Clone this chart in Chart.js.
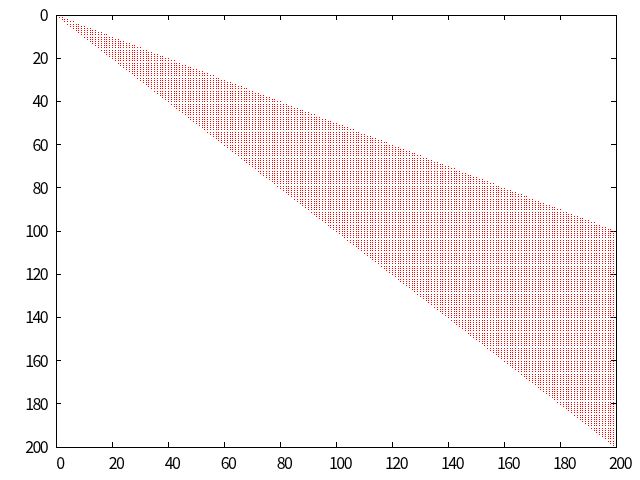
<!DOCTYPE html>
<html>
<head>
<meta charset="utf-8">
<style>
  html, body { margin: 0; padding: 0; background: #fff; }
  canvas { display: block; }
</style>
<script src="https://cdn.jsdelivr.net/npm/chart.js@4/dist/chart.umd.js"></script>
</head>
<body>
<canvas id="spy" width="640" height="480"></canvas>
<script>
// each column of the matrix holds one unbroken run of cells, topRow..bottomRow
const columns = [
  1,2,3,4,5,6,7,8,9,10,11,12,13,14,15,16,17,18,19,20,21,22,23,24,25,26,27,28,29,30,31,32,33,34,35,36,37,38,39,40,
  41,42,43,44,45,46,47,48,49,50,51,52,53,54,55,56,57,58,59,60,61,62,63,64,65,66,67,68,69,70,71,72,73,74,75,76,77,78,79,80,
  81,82,83,84,85,86,87,88,89,90,91,92,93,94,95,96,97,98,99,100,101,102,103,104,105,106,107,108,109,110,111,112,113,114,115,116,117,118,119,120,
  121,122,123,124,125,126,127,128,129,130,131,132,133,134,135,136,137,138,139,140,141,142,143,144,145,146,147,148,149,150,151,152,153,154,155,156,157,158,159,160,
  161,162,163,164,165,166,167,168,169,170,171,172,173,174,175,176,177,178,179,180,181,182,183,184,185,186,187,188,189,190,191,192,193,194,195,196,197,198,199
];
const topRow = [
  1,1,2,2,3,3,4,4,5,5,6,6,7,7,8,8,9,9,10,10,11,11,12,12,13,13,14,14,15,15,16,16,17,17,18,18,19,19,20,20,
  21,21,22,22,23,23,24,24,25,25,26,26,27,27,28,28,29,29,30,30,31,31,32,32,33,33,34,34,35,35,36,36,37,37,38,38,39,39,40,40,
  41,41,42,42,43,43,44,44,45,45,46,46,47,47,48,48,49,49,50,50,51,51,52,52,53,53,54,54,55,55,56,56,57,57,58,58,59,59,60,60,
  61,61,62,62,63,63,64,64,65,65,66,66,67,67,68,68,69,69,70,70,71,71,72,72,73,73,74,74,75,75,76,76,77,77,78,78,79,79,80,80,
  81,81,82,82,83,83,84,84,85,85,86,86,87,87,88,88,89,89,90,90,91,91,92,92,93,93,94,94,95,95,96,96,97,97,98,98,99,99,100
];
const bottomRow = [
  1,2,3,4,5,6,7,8,9,10,11,12,13,14,15,16,17,18,19,20,21,22,23,24,25,26,27,28,29,30,31,32,33,34,35,36,37,38,39,40,
  41,42,43,44,45,46,47,48,49,50,51,52,53,54,55,56,57,58,59,60,61,62,63,64,65,66,67,68,69,70,71,72,73,74,75,76,77,78,79,80,
  81,82,83,84,85,86,87,88,89,90,91,92,93,94,95,96,97,98,99,100,101,102,103,104,105,106,107,108,109,110,111,112,113,114,115,116,117,118,119,120,
  121,122,123,124,125,126,127,128,129,130,131,132,133,134,135,136,137,138,139,140,141,142,143,144,145,146,147,148,149,150,151,152,153,154,155,156,157,158,159,160,
  161,162,163,164,165,166,167,168,169,170,171,172,173,174,175,176,177,178,179,180,181,182,183,184,185,186,187,188,189,190,191,192,193,194,195,196,197,198,199
];
const axisMin = 0;
const axisMax = 200;
const axisStep = 20;

let cells = [];
columns.forEach((col, i) => {
  for (let row = topRow[i]; row <= bottomRow[i]; row++) {
    cells.push({'x': col, 'y': row});
  }
});

// the dots are single crisp pixels, so put each one on a pixel centre
const snapDots = {
  'id': 'snapDots',
  'afterDatasetsUpdate': (chart) => {
    chart.getDatasetMeta(0).data.forEach((pt) => {
      pt.x = Math.round(pt.x) + 0.5;
      pt.y = Math.round(pt.y) + 0.5;
    });
  }
};

// the reference digits are tall and narrow, tighten them up a bit
const tightText = {
  'id': 'tightText',
  'beforeDraw': (chart) => {
    chart.ctx.letterSpacing = '-1.6px';
  }
};

// fixed axis sizes, and no room reserved for labels hanging past the ends
const fitTo = (size) => (scale) => {
  if (scale.isHorizontal()) {
    scale.height = size;
  }
  else {
    scale.width = size;
  }
  scale.paddingTop = 0;
  scale.paddingBottom = 0;
  scale.paddingLeft = 0;
  scale.paddingRight = 0;
};

const axis = (extra) => Object.assign({
  'type': 'linear',
  'min': axisMin,
  'max': axisMax,
  'border': {'color': '#000', 'width': 1},
  'grid': {'drawOnChartArea': false, 'color': '#000', 'tickLength': -5, 'tickWidth': 1}
}, extra);

const labels = (padding, shift) => ({
  'stepSize': axisStep,
  'color': '#000',
  'padding': padding,
  'labelOffset': shift,
  'autoSkip': false,
  'maxRotation': 0,
  'font': {'family': '"Noto Sans CJK JP", monospace', 'size': 16}
});
const noLabels = {'stepSize': axisStep, 'display': false, 'autoSkip': false};

new Chart(document.getElementById('spy'), {
  'type': 'scatter',
  'data': {
    'datasets': [{
      'data': cells,
      'xAxisID': 'x',
      'yAxisID': 'y',
      'showLine': false,
      'pointStyle': 'rect',
      'pointRadius': Math.SQRT1_2,
      'pointHoverRadius': Math.SQRT1_2,
      'pointBorderWidth': 0,
      'pointBackgroundColor': '#ff0000',
      'clip': false
    }]
  },
  'options': {
    'responsive': false,
    'animation': false,
    'devicePixelRatio': 1,
    'events': [],
    'layout': {'padding': 0},
    'plugins': {'legend': {'display': false}, 'tooltip': {'enabled': false}},
    'scales': {
      'x': axis({'position': 'bottom', 'ticks': labels(11, 4), 'afterFit': fitTo(33)}),
      'x2': axis({'axis': 'x', 'position': 'top', 'ticks': noLabels, 'afterFit': fitTo(15)}),
      'y': axis({'position': 'left', 'reverse': true, 'ticks': labels(14, 0), 'afterFit': fitTo(56)}),
      'y2': axis({'axis': 'y', 'position': 'right', 'reverse': true, 'ticks': noLabels, 'afterFit': fitTo(24)})
    }
  },
  'plugins': [snapDots, tightText]
});
</script>
</body>
</html>
